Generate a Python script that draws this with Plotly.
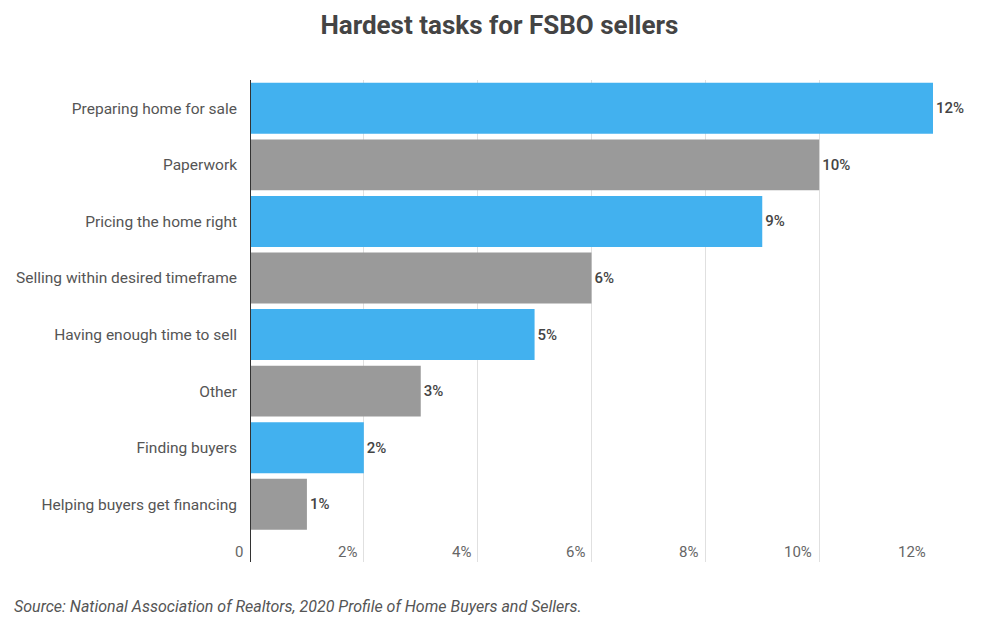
import plotly.graph_objects as go

categories = ["Preparing home for sale", "Paperwork", "Pricing the home right",
              "Selling within desired timeframe", "Having enough time to sell",
              "Other", "Finding buyers", "Helping buyers get financing"]
values = [12, 10, 9, 6, 5, 3, 2, 1]
value_labels = ["12%", "10%", "9%", "6%", "5%", "3%", "2%", "1%"]
tick_vals = [0, 2, 4, 6, 8, 10, 12]
tick_labels = ["0", "2%", "4%", "6%", "8%", "10%", "12%"]

BLUE = "#42B1EF"
GRAY = "#9A9A9A"
colors = [BLUE if i % 2 == 0 else GRAY for i in range(len(categories))]

fig = go.Figure(go.Bar(
    x=values, y=categories, orientation="h",
    marker=dict(color=colors, line=dict(width=0)),
    text=value_labels, textposition="outside",
    textfont=dict(family="Roboto", size=15, color="#444444", weight=500),
    cliponaxis=False, width=0.9,
))

annotations = []
for v, lab in zip(tick_vals, tick_labels):
    annotations.append(dict(
        x=v, y=7.84, xref="x", yref="y", text=lab, showarrow=False,
        xanchor="right", yanchor="middle", xshift=-5,
        font=dict(family="Roboto", size=15, color="#666666")))
annotations.append(dict(
    x=(12 - 250) / 683, y=-(606 - 562) / 482, xref="paper", yref="paper",
    text="<i>Source: National Association of Realtors, 2020 Profile of Home Buyers and Sellers.</i>",
    showarrow=False, xanchor="left", yanchor="middle",
    font=dict(family="Roboto", size=16, color="#555555")))

fig.update_layout(
    width=983, height=619,
    margin=dict(l=250, r=50, t=80, b=57),
    paper_bgcolor="white", plot_bgcolor="white",
    title=dict(text="<b>Hardest tasks for FSBO sellers</b>", x=0.508, xanchor="center",
               y=1 - 25 / 619, yanchor="middle",
               font=dict(family="Roboto", size=26, color="#444444")),
    xaxis=dict(range=[0, 12], tickvals=tick_vals, showticklabels=False,
               showgrid=True, gridcolor="#E0E0E0", gridwidth=1,
               zeroline=False, showline=False, fixedrange=True),
    yaxis=dict(type="category", range=[8.02, -0.5], showgrid=False,
               ticks="", ticklabelstandoff=12,
               tickfont=dict(family="Roboto", size=15.5, color="#555555"),
               showline=False, zeroline=False),
    shapes=[dict(type="line", xref="x", yref="paper", x0=0, x1=0, y0=0, y1=1,
                 line=dict(color="#333333", width=2))],
    annotations=annotations,
    showlegend=False,
    bargap=0.1,
)

fig.write_html("out.html", config={"displayModeBar": False},
               post_script="document.body.style.margin='0';document.body.style.overflow='hidden';")
